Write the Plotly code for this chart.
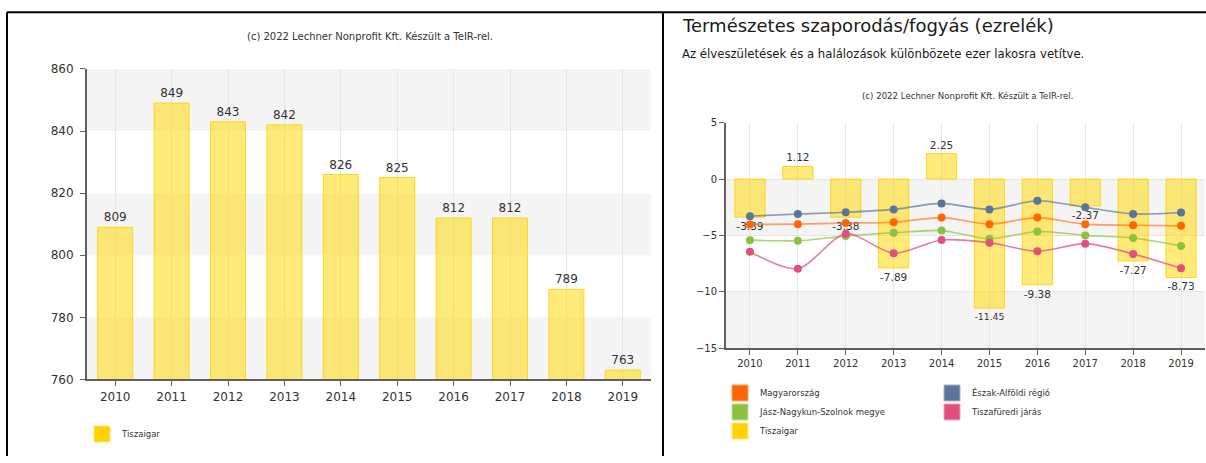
import plotly.graph_objects as go

# ---------------- data ----------------
years = ["2010", "2011", "2012", "2013", "2014", "2015", "2016", "2017", "2018", "2019"]

# left chart: population of Tiszaigar
tiszaigar_pop = [809, 849, 843, 842, 826, 825, 812, 812, 789, 763]

# right chart: natural increase / decrease (per mille)
tiszaigar_rate = [-3.39, 1.12, -3.38, -7.89, 2.25, -11.45, -9.38, -2.37, -7.27, -8.73]
magyarorszag = [-4.03, -4.0, -3.9, -3.83, -3.42, -4.0, -3.42, -4.0, -4.1, -4.15]
eszak_alfold = [-3.29, -3.1, -2.95, -2.69, -2.16, -2.69, -1.93, -2.51, -3.1, -2.97]
jnsz_megye = [-5.42, -5.47, -5.06, -4.77, -4.56, -5.29, -4.65, -5.0, -5.23, -5.93]
tiszafured = [-6.45, -7.95, -4.85, -6.58, -5.41, -5.64, -6.4, -5.73, -6.64, -7.91]

left_yticks = [760, 780, 800, 820, 840, 860]
right_yticks = [-15, -10, -5, 0, 5]

# ---------------- styling ----------------
W, H = 1206, 463
FONT = "DejaVu Sans"
TXT = "#333333"
GOLD_FILL = "rgba(255,215,0,0.52)"
GOLD_LINE = "rgba(255,208,0,0.85)"
GOLD = "#FFD200"
ORANGE = "#FF6600"
BLUE = "#5B7599"
GREEN = "#8DC03F"
PINK = "#E0507A"
BAND = "#f4f4f4"
GRID = "#e6e6e6"
AXIS = "#606060"

# the page photograph maps figure y to screen y as  7.2 + 0.968*y ; compensate
OFF, SC = 7.2, 0.968


def px(x):
    return x / W


def py(y):
    return 1 - ((y - OFF) / SC) / H


fig = go.Figure()

# ---------- left chart ----------
fig.add_trace(go.Bar(
    x=years, y=tiszaigar_pop, xaxis="x", yaxis="y",
    marker=dict(color=GOLD_FILL, line=dict(color=GOLD_LINE, width=1)),
    width=0.62, text=[str(v) for v in tiszaigar_pop], textposition="outside",
    textfont=dict(family=FONT, size=12, color=TXT), cliponaxis=False,
    showlegend=False, name="Tiszaigar", hoverinfo="x+y",
))
fig.add_trace(go.Scatter(
    x=[None], y=[None], xaxis="x", yaxis="y", mode="markers", name="Tiszaigar",
    marker=dict(symbol="square", size=16, color=GOLD, line=dict(color="#ffe680", width=1)),
    legend="legend",
))

# ---------- right chart ----------
fig.add_trace(go.Bar(
    x=years, y=tiszaigar_rate, xaxis="x2", yaxis="y2",
    marker=dict(color=GOLD_FILL, line=dict(color=GOLD_LINE, width=1)),
    width=0.63, text=[f"{v:.2f}" for v in tiszaigar_rate], textposition="outside",
    textfont=dict(family=FONT, size=10.5, color=TXT), cliponaxis=False,
    showlegend=False, name="Tiszaigar", hoverinfo="x+y",
))

line_series = [
    ("Magyarország", magyarorszag, ORANGE, "rgba(255,102,0,0.6)"),
    ("Észak-Alföldi régió", eszak_alfold, BLUE, "rgba(91,117,153,0.7)"),
    ("Jász-Nagykun-Szolnok megye", jnsz_megye, GREEN, "rgba(141,192,63,0.7)"),
    ("Tiszafüredi járás", tiszafured, PINK, "rgba(224,80,122,0.75)"),
]
for name, vals, col, lcol in line_series:
    fig.add_trace(go.Scatter(
        x=years, y=vals, xaxis="x2", yaxis="y2", mode="lines+markers", name=name,
        line=dict(color=lcol, width=1.6, shape="spline", smoothing=0.8),
        marker=dict(color=col, size=8), showlegend=False,
    ))

# legend-only squares for the right chart
legend_items = [
    ("Magyarország", ORANGE, "#ffa070", "legend2"),
    ("Jász-Nagykun-Szolnok megye", GREEN, "#c2e09a", "legend2"),
    ("Tiszaigar", GOLD, "#ffe680", "legend2"),
    ("Észak-Alföldi régió", BLUE, "#a5b4c8", "legend3"),
    ("Tiszafüredi járás", PINK, "#f0a0b8", "legend3"),
]
for name, col, bcol, leg in legend_items:
    fig.add_trace(go.Scatter(
        x=[None], y=[None], xaxis="x2", yaxis="y2", mode="markers", name=name,
        marker=dict(symbol="square", size=16, color=col, line=dict(color=bcol, width=1)),
        legend=leg,
    ))

# ---------- bands ----------
shapes = []
for lo, hi in [(760, 780), (800, 820), (840, 860)]:
    shapes.append(dict(type="rect", xref="x domain", yref="y", x0=0, x1=1, y0=lo, y1=hi,
                       fillcolor=BAND, line=dict(width=0), layer="below"))
for lo, hi in [(-5, 0), (-15, -10)]:
    shapes.append(dict(type="rect", xref="x2 domain", yref="y2", x0=0, x1=1, y0=lo, y1=hi,
                       fillcolor=BAND, line=dict(width=0), layer="below"))

# ---------- page borders ----------
shapes.append(dict(type="line", xref="paper", yref="paper", x0=px(7), x1=1, y0=py(12.5), y1=py(12.5),
                   line=dict(color="black", width=2)))
shapes.append(dict(type="line", xref="paper", yref="paper", x0=px(7), x1=px(7), y0=0, y1=py(12.5),
                   line=dict(color="black", width=2)))
shapes.append(dict(type="line", xref="paper", yref="paper", x0=px(663), x1=px(663), y0=0, y1=py(12.5),
                   line=dict(color="black", width=2)))

annotations = [
    dict(text="(c) 2022 Lechner Nonprofit Kft. Készült a TeIR-rel.", xref="paper", yref="paper",
         x=px(370), y=py(37), xanchor="center", yanchor="middle", showarrow=False,
         font=dict(family=FONT, size=10, color=TXT)),
    dict(text="Természetes szaporodás/fogyás (ezrelék)", xref="paper", yref="paper",
         x=px(680), y=py(26), xanchor="left", yanchor="middle", showarrow=False,
         font=dict(family=FONT, size=18, color="#1a1a1a")),
    dict(text="Az élveszületések és a halálozások különbözete ezer lakosra vetítve.", xref="paper",
         yref="paper", x=px(680), y=py(54), xanchor="left", yanchor="middle", showarrow=False,
         font=dict(family=FONT, size=11.7, color="#1a1a1a")),
    dict(text="(c) 2022 Lechner Nonprofit Kft. Készült a TeIR-rel.", xref="paper", yref="paper",
         x=px(967), y=py(96), xanchor="center", yanchor="middle", showarrow=False,
         font=dict(family=FONT, size=8.6, color=TXT)),
]

axis_common = dict(
    showline=True, linecolor=AXIS, linewidth=2, ticks="outside", tickcolor=AXIS,
    ticklen=5, tickwidth=1, zeroline=False, gridcolor=GRID, gridwidth=1,
)

fig.update_layout(
    width=W, height=H, autosize=False,
    margin=dict(l=0, r=0, t=0, b=0),
    paper_bgcolor="white", plot_bgcolor="white",
    barmode="overlay",
    shapes=shapes, annotations=annotations,
    xaxis=dict(domain=[px(87), px(651)], anchor="y", type="category", range=[-0.5, 9.5],
               tickfont=dict(family=FONT, size=12, color=TXT), showgrid=True, **axis_common),
    yaxis=dict(domain=[py(379), py(69)], anchor="x", range=[760, 860], tickvals=left_yticks,
               tickfont=dict(family=FONT, size=12, color=TXT), showgrid=False,
               ticklabelstandoff=4, **axis_common),
    xaxis2=dict(domain=[px(726), px(1205)], anchor="y2", type="category", range=[-0.5, 9.5],
                tickfont=dict(family=FONT, size=10, color=TXT), showgrid=True, **axis_common),
    yaxis2=dict(domain=[py(347.7), py(122.7)], anchor="x2", range=[-15, 5], tickvals=right_yticks,
                tickfont=dict(family=FONT, size=10, color=TXT), showgrid=True, **axis_common),
    legend=dict(x=px(82), y=py(419), xanchor="left", yanchor="top", orientation="v",
                bgcolor="rgba(0,0,0,0)", font=dict(family=FONT, size=8.5, color=TXT)),
    legend2=dict(x=px(720), y=py(378), xanchor="left", yanchor="top", orientation="v",
                 bgcolor="rgba(0,0,0,0)", font=dict(family=FONT, size=8.5, color=TXT),
                 tracegroupgap=0),
    legend3=dict(x=px(932), y=py(378), xanchor="left", yanchor="top", orientation="v",
                 bgcolor="rgba(0,0,0,0)", font=dict(family=FONT, size=8.5, color=TXT),
                 tracegroupgap=0),
)

fig.write_html(
    "out.html",
    config={"displayModeBar": False},
    post_script="document.body.style.margin='0';document.body.style.overflow='hidden';",
)
